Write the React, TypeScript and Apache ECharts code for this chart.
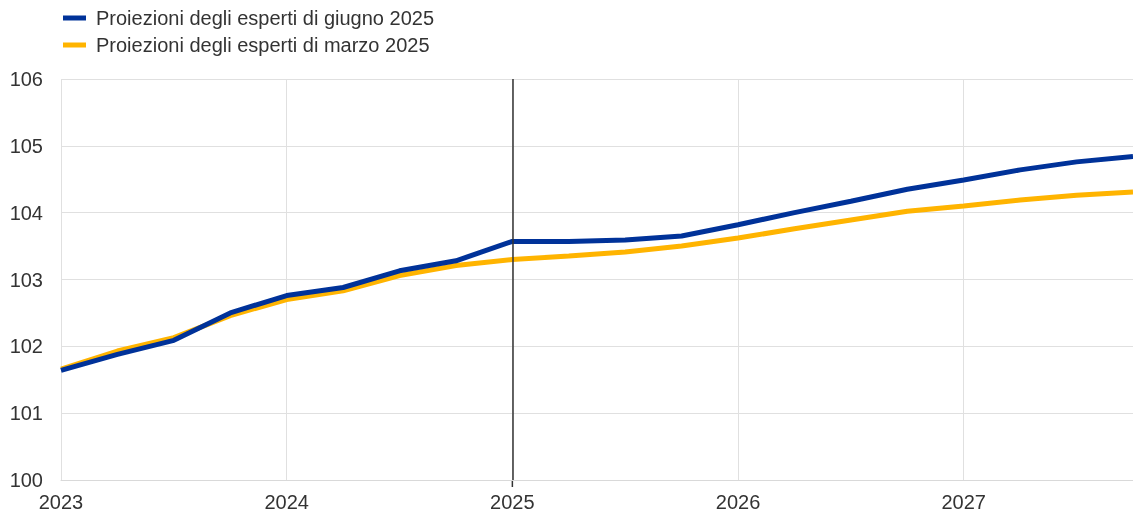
import React, { useEffect, useRef } from "react";
import * as echarts from "echarts";

const quarters = [
  2023.0, 2023.25, 2023.5, 2023.75,
  2024.0, 2024.25, 2024.5, 2024.75,
  2025.0, 2025.25, 2025.5, 2025.75,
  2026.0, 2026.25, 2026.5, 2026.75,
  2027.0, 2027.25, 2027.5, 2027.75,
];
const juneValues = [
  101.64, 101.88, 102.09, 102.5,
  102.76, 102.88, 103.13, 103.28,
  103.57, 103.57, 103.59, 103.65,
  103.82, 104.0, 104.17, 104.35,
  104.49, 104.64, 104.76, 104.84,
];
const marchValues = [
  101.66, 101.93, 102.13, 102.46,
  102.7, 102.83, 103.06, 103.21,
  103.3, 103.35, 103.41, 103.5,
  103.62, 103.76, 103.89, 104.02,
  104.1, 104.19, 104.26, 104.31,
];
const seriesNames = [
  "Proiezioni degli esperti di giugno 2025",
  "Proiezioni degli esperti di marzo 2025",
];
const seriesColors = ["#003299", "#FFB400"];
const divider = 2025;

export default function App() {
  const ref = useRef<HTMLDivElement>(null);
  useEffect(() => {
    if (!ref.current) return;
    const chart = echarts.init(ref.current, undefined, { renderer: "svg" });
    const font = "Arial, 'Liberation Sans', sans-serif";
    chart.setOption({
      animation: false,
      textStyle: { fontFamily: font },
      legend: {
        orient: "vertical",
        left: 58,
        top: 3,
        itemWidth: 23,
        itemHeight: 5,
        itemGap: 7,
        icon: "rect",
        textStyle: {
          fontSize: 20,
          color: "#333",
          fontFamily: font,
          padding: [0, 0, 0, 5],
        },
        data: seriesNames.map((n, i) => ({
          name: n,
          itemStyle: { color: seriesColors[i] },
        })),
      },
      grid: { left: 61, right: 0, top: 79, bottom: 35, containLabel: false },
      xAxis: {
        type: "value",
        min: 2023,
        max: 2027.75,
        interval: 1,
        axisLine: { show: true, lineStyle: { color: "#d9d9d9", width: 1 } },
        axisTick: { show: false },
        splitLine: { show: true, lineStyle: { color: "#e0e0e0", width: 1 } },
        axisLabel: {
          fontSize: 20,
          color: "#333",
          margin: 12,
          showMaxLabel: false,
          formatter: (v: number) => (Number.isInteger(v) ? String(v) : ""),
        },
      },
      yAxis: {
        type: "value",
        min: 100,
        max: 106,
        interval: 1,
        axisLine: { show: false },
        axisTick: { show: false },
        splitLine: { show: true, lineStyle: { color: "#e0e0e0", width: 1 } },
        axisLabel: { fontSize: 20, color: "#333", margin: 18 },
      },
      series: [
        {
          name: seriesNames[1],
          type: "line",
          data: quarters.map((q, i) => [q, marchValues[i]]),
          showSymbol: false,
          lineStyle: { color: seriesColors[1], width: 5 },
          itemStyle: { color: seriesColors[1] },
          z: 2,
        },
        {
          name: seriesNames[0],
          type: "line",
          data: quarters.map((q, i) => [q, juneValues[i]]),
          showSymbol: false,
          lineStyle: { color: seriesColors[0], width: 5 },
          itemStyle: { color: seriesColors[0] },
          z: 3,
          markLine: {
            silent: true,
            symbol: "none",
            label: { show: false },
            lineStyle: { color: "#333", width: 1.5, type: "solid" },
            data: [{ xAxis: divider }],
          },
        },
      ],
    });
    const bottom = chart.convertToPixel({ yAxisIndex: 0 }, 100) as number;
    const px = chart.convertToPixel({ xAxisIndex: 0 }, divider) as number;
    chart.setOption({
      graphic: [
        {
          type: "line",
          shape: { x1: px, y1: bottom, x2: px, y2: bottom + 7 },
          style: { stroke: "#333", lineWidth: 1.5 },
          silent: true,
        },
      ],
    });
    return () => chart.dispose();
  }, []);
  return (
    <div
      ref={ref}
      style={{ position: "fixed", left: 0, top: 0, width: 1133, height: 515 }}
    />
  );
}
